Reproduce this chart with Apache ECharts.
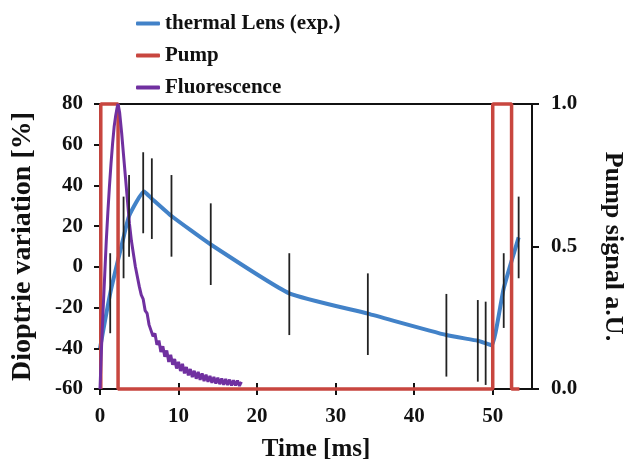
<!DOCTYPE html>
<html>
<head>
<meta charset="utf-8">
<title>thermal lens</title>
<script src="https://cdn.jsdelivr.net/npm/echarts@6/dist/echarts.min.js"></script>
<style>
    html, body { margin: 0; padding: 0; background: #fff; }
    #chart { width: 625px; height: 462px; }
</style>
</head>
<body>
<div id="chart"></div>
<script>
// thermal lens, pump pulse, fluorescence

// thermal lens (exp.) - left axis [%]
var lensTime  = [0, 1.3, 3.0, 3.7, 5.6, 6.6, 9.1, 14.1, 24.1, 34.1, 44.1, 48.1, 49.1, 49.9, 51.4, 53.3];
var lensValue = [-40, -13, 14.5, 25, 37, 33.5, 25, 11, -13, -23, -33.5, -36.3, -37.5, -38.5, -10.5, 14.5];

// error bars
var errTime = [1.3, 3.0, 3.7, 5.5, 6.6, 9.1, 14.1, 24.1, 34.1, 44.1, 48.1, 49.1, 51.4, 53.3];
var errHigh = [6.7, 34.5, 45.1, 56.3, 53.3, 45.1, 31.2, 6.7, -3.2, -13.3, -16.3, -17.1, 6.7, 34.5];
var errLow  = [-32.6, -5.6, 5, 16.5, 13.7, 5, -8.9, -33.5, -43.3, -53.9, -56.4, -58, -30, -5.6];

// pump signal - right axis
var pumpTime  = [0.1, 0.1, 2.3, 2.3, 50, 50, 52.4, 52.4, 53.4];
var pumpValue = [0, 1, 1, 0, 0, 1, 1, 0, 0];

// fluorescence (normalised) - right axis
var fluoTime = [0, 0.2, 0.4, 0.6, 0.8, 1.0, 1.2, 1.4, 1.6, 1.8, 2.0, 2.2, 2.3, 2.5, 2.75, 3.0, 3.25, 3.5, 3.75, 4.0, 4.5,
    5.0, 5.25, 5.5, 5.75, 6.0, 6.25, 6.5, 6.75, 7.0, 7.25, 7.5, 7.75, 8.0, 8.25, 8.5, 8.75, 9.0, 9.25, 9.5, 9.75,
    10.0, 10.25, 10.5, 10.75, 11.0, 11.25, 11.5, 11.75, 12.0, 12.25, 12.5, 12.75, 13.0, 13.25, 13.5, 13.75,
    14.0, 14.25, 14.5, 14.75, 15.0, 15.25, 15.5, 15.75, 16.0, 16.25, 16.5, 16.75, 17.0, 17.25, 17.5, 17.75, 18.0];
var fluoValue = [0, 0.15, 0.28, 0.40, 0.52, 0.62, 0.71, 0.79, 0.86, 0.92, 0.96, 0.99, 1.0, 0.97, 0.90, 0.82, 0.74, 0.66, 0.58, 0.52, 0.43,
    0.36, 0.33, 0.315, 0.275, 0.265, 0.225, 0.23, 0.185, 0.195, 0.155, 0.17, 0.13, 0.15, 0.113, 0.135, 0.095, 0.12, 0.085, 0.105, 0.072,
    0.095, 0.063, 0.088, 0.055, 0.077, 0.048, 0.07, 0.042, 0.064, 0.036, 0.06, 0.032, 0.055, 0.028, 0.05, 0.025,
    0.046, 0.022, 0.042, 0.019, 0.04, 0.017, 0.037, 0.015, 0.035, 0.014, 0.033, 0.012, 0.031, 0.012, 0.03, 0.011, 0.025];

// axis ticks
var xMin = 0, xMax = 55, xStep = 10;
var yMin = -60, yMax = 80, yStep = 20;
var pMin = 0, pMax = 1, pStep = 0.5;

function pairs(a, b) {
    var r = [];
    for (var i = 0; i < a.length; i++) r.push([a[i], b[i]]);
    return r;
}

var errData = [];
for (var i = 0; i < errTime.length; i++) {
    errData.push([errTime[i], errLow[i], errHigh[i]]);
}

var font = 'Liberation Serif';
var lbl = { fontFamily: font, fontWeight: 'bold', fontSize: 21, color: '#111' };

var myChart = echarts.init(document.getElementById('chart'));

var option = {
    animation: false,
    backgroundColor: '#fff',
    grid: {
        left: 100, right: 93, top: 104, bottom: 73,
        outerBoundsMode: 'none',
        show: true, borderColor: '#111', borderWidth: 2
    },
    legend: {
        orient: 'vertical',
        left: 131, top: 8,
        itemWidth: 24, itemHeight: 4, itemGap: 11,
        icon: 'roundRect',
        data: ['thermal Lens (exp.)', 'Pump', 'Fluorescence'],
        textStyle: { fontFamily: font, fontWeight: 'bold', fontSize: 21, color: '#111' }
    },
    xAxis: [{
        type: 'value', min: xMin, max: xMax, interval: xStep, position: 'bottom',
        name: 'Time [ms]', nameLocation: 'middle', nameGap: 48,
        nameTextStyle: { fontFamily: font, fontWeight: 'bold', fontSize: 25, color: '#111' },
        axisLine: { onZero: false, lineStyle: { color: '#111', width: 2 } },
        axisTick: { length: 6, lineStyle: { color: '#111', width: 2 } },
        axisLabel: Object.assign({ margin: 17, showMaxLabel: false }, lbl),
        splitLine: { show: false }
    }, {
        // inner half of the crossing ticks
        type: 'value', min: xMin, max: xMax, interval: xStep, position: 'bottom',
        axisLine: { show: false, onZero: false },
        axisTick: { inside: true, length: 6, lineStyle: { color: '#111', width: 2 } },
        axisLabel: { show: false },
        splitLine: { show: false }
    }],
    yAxis: [{
        type: 'value', min: yMin, max: yMax, interval: yStep, position: 'left',
        name: 'Dioptrie variation [%]', nameLocation: 'middle', nameGap: 63, nameRotate: 90,
        nameTextStyle: { fontFamily: font, fontWeight: 'bold', fontSize: 28, color: '#111' },
        axisLine: { show: true, onZero: false, lineStyle: { color: '#111', width: 2 } },
        axisTick: { show: true, length: 6, lineStyle: { color: '#111', width: 2 } },
        axisLabel: Object.assign({ margin: 17 }, lbl),
        splitLine: { show: false }
    }, {
        type: 'value', min: pMin, max: pMax, interval: pStep, position: 'right',
        name: 'Pump signal a.U.', nameLocation: 'middle', nameGap: 68, nameRotate: -90,
        nameTextStyle: { fontFamily: font, fontWeight: 'bold', fontSize: 26, color: '#111' },
        axisLine: { show: true, onZero: false, lineStyle: { color: '#111', width: 2 } },
        axisTick: { show: true, length: 7, lineStyle: { color: '#111', width: 2 } },
        axisLabel: Object.assign({ margin: 19, formatter: function (v) { return v.toFixed(1); } }, lbl),
        splitLine: { show: false }
    }],
    series: [{
        name: 'thermal Lens (exp.)',
        type: 'line',
        yAxisIndex: 0,
        data: pairs(lensTime, lensValue),
        smooth: 0.15,
        showSymbol: false,
        color: '#4282c8',
        lineStyle: { width: 4, color: '#4282c8' },
        z: 3
    }, {
        name: 'Pump',
        type: 'line',
        yAxisIndex: 1,
        data: pairs(pumpTime, pumpValue),
        showSymbol: false,
        clip: false,
        color: '#c8463f',
        lineStyle: { width: 3.5, color: '#c8463f' },
        z: 4
    }, {
        name: 'Fluorescence',
        type: 'line',
        yAxisIndex: 1,
        data: pairs(fluoTime, fluoValue),
        showSymbol: false,
        clip: false,
        color: '#7030a0',
        lineStyle: { width: 3, color: '#7030a0' },
        z: 5
    }, {
        name: 'err',
        type: 'custom',
        yAxisIndex: 0,
        data: errData,
        encode: { x: 0, y: [1, 2] },
        renderItem: function (params, api) {
            var lo = api.coord([api.value(0), api.value(1)]);
            var hi = api.coord([api.value(0), api.value(2)]);
            return {
                type: 'line',
                shape: { x1: lo[0], y1: lo[1], x2: hi[0], y2: hi[1] },
                style: { stroke: '#222', lineWidth: 1.8 }
            };
        },
        z: 6
    }]
};

myChart.setOption(option);
</script>
</body>
</html>
